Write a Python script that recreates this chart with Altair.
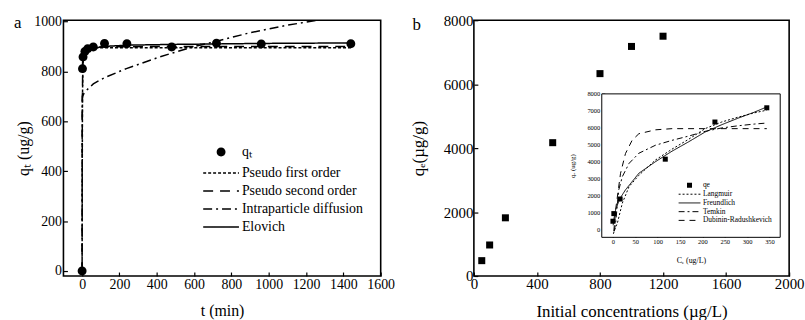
import altair as alt
import pandas as pd

FONT = "Liberation Serif"

# ---------------- panel a: adsorption kinetics ----------------
t_obs = [0, 2, 5, 15, 30, 60, 120, 240, 480, 720, 960, 1440]
qt_obs = [0, 811, 858, 880, 891, 898, 912, 911, 898, 913, 910, 911]

t_pfo = [0, 1, 2, 5, 10, 20, 60, 240, 720, 1440]
q_pfo = [0, 450, 700, 850, 885, 893, 895, 895, 895, 895]
t_pso = [0, 1, 3, 10, 30, 100, 480, 1440]
q_pso = [0, 600, 820, 875, 893, 898, 900, 900]
t_ipd = [0, 0.5, 2, 10, 25, 60, 120, 237, 416, 592, 716, 900, 1100, 1260]
q_ipd = [0, 690, 700, 712, 725, 750, 775, 811, 858, 898, 920, 955, 985, 1005]
t_elo = [1, 3, 10, 30, 60, 120, 240, 480, 720, 960, 1440]
q_elo = [800, 845, 868, 885, 893, 900, 905, 908, 910, 912, 914]

series_a = ["qₜ", "Pseudo first order", "Pseudo second order",
            "Intraparticle diffusion", "Elovich"]

# ---------------- panel b: isotherm ----------------
c0 = [50, 100, 200, 500, 800, 1000, 1200]
qe_main = [480, 970, 1820, 4170, 6330, 7180, 7500]

# inset
ce_obs = [0, 2, 16, 117, 228, 344]
qe_obs = [490, 940, 1800, 4150, 6340, 7180]

ce_lang = [1, 4, 10, 21, 36, 58, 95, 132, 169, 206, 243, 280, 316, 344]
q_lang = [-250, 0, 390, 1560, 2530, 3200, 4100, 4740, 5320, 5950, 6340, 6630, 6880, 7040]
ce_freu = [0.5, 2, 6, 15, 28, 58, 95, 132, 169, 206, 243, 280, 316, 344]
q_freu = [250, 600, 1170, 1800, 2340, 3320, 4000, 4620, 5170, 5750, 6180, 6570, 6920, 7230]
ce_temk = [3, 6, 13, 21, 36, 58, 95, 132, 169, 206, 243, 280, 316, 344]
q_temk = [-100, 390, 2340, 3120, 3900, 4500, 4970, 5260, 5510, 5790, 5990, 6120, 6220, 6280]
ce_dr = [2, 6, 17, 28, 43, 58, 95, 132, 206, 280, 344]
q_dr = [-100, 1170, 3320, 4480, 5270, 5650, 5880, 5950, 5950, 5950, 5950]

series_b = ["qe", "Langmuir", "Freundlich", "Temkin", "Dubinin-Radushkevich"]

panel_labels = ["a", "b"]

circle_path = "M-0.25,0A0.25,0.25 0 1,0 0.25,0A0.25,0.25 0 1,0 -0.25,0Z"
square_path = "M-0.23,-0.23H0.23V0.23H-0.23Z"

W_A, W_B, H = 320, 318, 258

leg_common = dict(title=None, orient="none", padding=0, labelFont=FONT, labelColor="black",
                  symbolFillColor="black", symbolStrokeColor="black", labelOffset=2)

# ================= panel a =================
df_a_pts = pd.DataFrame({"t": t_obs, "q": qt_obs, "series": series_a[0]})
df_a_lines = pd.concat([
    pd.DataFrame({"t": ts, "q": qs, "series": name})
    for name, ts, qs in [(series_a[1], t_pfo, q_pfo), (series_a[2], t_pso, q_pso),
                         (series_a[3], t_ipd, q_ipd), (series_a[4], t_elo, q_elo)]
])

ax_common = dict(labelFont=FONT, labelColor="black", titleFont=FONT, titleColor="black",
                 titleFontWeight="normal", tickColor="black", grid=False, domain=False,
                 labelFlush=False, format="d")

xa = alt.X("t:Q", scale=alt.Scale(domain=[-100, 1600], nice=False, zero=False),
           axis=alt.Axis(values=list(range(0, 1601, 200)), title="t (min)", labelFontSize=14,
                         titleFontSize=16, tickSize=4, tickWidth=1.2, offset=-4,
                         labelPadding=2, titlePadding=11, **ax_common))
ya = alt.Y("q:Q", scale=alt.Scale(domain=[-20, 1005], nice=False, zero=False),
           axis=alt.Axis(values=list(range(0, 1001, 200)), title="qₜ (ug/g)", labelFontSize=14,
                         titleFontSize=16, tickSize=4, tickWidth=1.2, offset=-4,
                         labelPadding=2, titlePadding=2, **ax_common))

legend_a_pt = alt.Legend(legendX=140, legendY=126, labelFontSize=14, symbolSize=1300,
                         symbolStrokeWidth=1, clipHeight=14, **leg_common)
legend_a_ln = alt.Legend(legendX=140, legendY=147, labelFontSize=14, symbolSize=1300,
                         symbolStrokeWidth=1.5, clipHeight=14, rowPadding=4.2, **leg_common)

dash_a = [[3, 2], [10, 7], [9, 4, 2, 4], [1, 0]]

pts_a = alt.Chart(df_a_pts).mark_point(filled=True, size=1300, color="black", opacity=1).encode(
    x=xa, y=ya,
    shape=alt.Shape("series:N", scale=alt.Scale(domain=series_a[:1], range=[circle_path]),
                    legend=legend_a_pt),
)
lines_a = alt.Chart(df_a_lines).mark_line(color="black", strokeWidth=1.5, clip=True).encode(
    x=xa, y=ya,
    strokeDash=alt.StrokeDash("series:N", scale=alt.Scale(domain=series_a[1:], range=dash_a),
                              legend=legend_a_ln),
)
lab_a = alt.Chart(pd.DataFrame({"lab": panel_labels[:1]})).mark_text(
    font=FONT, fontSize=17, align="left", baseline="middle", color="black"
).encode(x=alt.value(-50), y=alt.value(3), text="lab:N")

panel_a = alt.layer(lines_a, pts_a, lab_a).properties(width=W_A, height=H)

# ================= panel b =================
df_b = pd.DataFrame({"c0": c0, "qe": qe_main})
xb = alt.X("c0:Q", scale=alt.Scale(domain=[0, 2000], nice=False, zero=False),
           axis=alt.Axis(values=list(range(0, 2001, 400)), title="Initial concentrations (µg/L)",
                         labelFontSize=15, titleFontSize=17, tickSize=4, tickWidth=1.2, offset=-4,
                         labelPadding=1, titlePadding=12, orient="bottom", **ax_common))
yb = alt.Y("qe:Q", scale=alt.Scale(domain=[0, 8000], nice=False, zero=False),
           axis=alt.Axis(values=list(range(0, 8001, 2000)), title="qₑ(µg/g)",
                         labelFontSize=15, titleFontSize=17, tickSize=4, tickWidth=1.2, offset=-4,
                         labelPadding=1, titlePadding=16, orient="left", **ax_common))
main_b = alt.Chart(df_b).mark_square(size=50, color="black", opacity=1).encode(x=xb, y=yb)
lab_b = alt.Chart(pd.DataFrame({"lab": panel_labels[1:]})).mark_text(
    font=FONT, fontSize=17, align="left", baseline="middle", color="black"
).encode(x=alt.value(-62), y=alt.value(5), text="lab:N")

# inset
X_DOM, X_RNG = [-25, 374], [129, 309]
Y_DOM, Y_RNG = [-460, 8000], [219, 74.3]
ax_in = dict(labelFont=FONT, labelColor="black", titleFont=FONT, titleColor="black",
             titleFontWeight="normal", tickColor="black", grid=False, domain=False,
             labelFlush=False, tickSize=3, tickWidth=0.8, format="d")

xi = alt.X("ce:Q", scale=alt.Scale(domain=X_DOM, range=X_RNG, nice=False, zero=False),
           axis=alt.Axis(values=list(range(0, 351, 50)), title="Cₑ (ug/L)", orient="bottom",
                         offset=-(H - Y_RNG[0]) - 3, labelFontSize=6.5,
                         titleFontSize=8, labelPadding=1, titlePadding=12, **ax_in))
yi = alt.Y("q:Q", scale=alt.Scale(domain=Y_DOM, range=Y_RNG, nice=False, zero=False),
           axis=alt.Axis(values=list(range(0, 8001, 1000)), title="qₑ (ug/g)", orient="left",
                         offset=-X_RNG[0] - 3, labelFontSize=6.5, titleFontSize=7,
                         labelPadding=2, titlePadding=11, **ax_in))

df_frame = pd.DataFrame({"ce": [X_DOM[0]], "ce2": [X_DOM[1]], "q": [Y_DOM[0]], "q2": [Y_DOM[1]]})
frame_in = alt.Chart(df_frame).mark_rect(fill="white", stroke="black", strokeWidth=1).encode(
    x=xi, x2="ce2:Q", y=yi, y2="q2:Q")

df_in_pts = pd.DataFrame({"ce": ce_obs, "q": qe_obs, "series": series_b[0]})
df_in_lines = pd.concat([
    pd.DataFrame({"ce": cs, "q": qs, "series": name})
    for name, cs, qs in [(series_b[1], ce_lang, q_lang), (series_b[2], ce_freu, q_freu),
                         (series_b[3], ce_temk, q_temk), (series_b[4], ce_dr, q_dr)]
])

legend_b_pt = alt.Legend(legendX=206, legendY=162.5, labelFontSize=7.5, symbolSize=484,
                         symbolStrokeWidth=0.5, clipHeight=8, **leg_common)
legend_b_ln = alt.Legend(legendX=206, legendY=171.5, labelFontSize=7.5, symbolSize=484,
                         symbolStrokeWidth=1, clipHeight=8, rowPadding=0.8, **leg_common)
dash_b = [[2, 2], [1, 0], [6, 3, 2, 3], [6, 5]]

in_lines = alt.Chart(df_in_lines).mark_line(color="black", strokeWidth=1).encode(
    x=xi, y=yi,
    strokeDash=alt.StrokeDash("series:N", scale=alt.Scale(domain=series_b[1:], range=dash_b),
                              legend=legend_b_ln),
)
in_pts = alt.Chart(df_in_pts).mark_point(filled=True, size=484, color="black", opacity=1).encode(
    x=xi, y=yi,
    shape=alt.Shape("series:N", scale=alt.Scale(domain=series_b[:1], range=[square_path]),
                    legend=legend_b_pt),
)
inset = alt.layer(frame_in, in_lines, in_pts)

panel_b = alt.layer(main_b, lab_b, inset).resolve_scale(
    x="independent", y="independent").properties(width=W_B, height=H)

chart = alt.hconcat(panel_a, panel_b, spacing=13).resolve_scale(
    x="independent", y="independent", shape="independent", strokeDash="independent"
).resolve_legend(shape="independent", strokeDash="independent").properties(
    padding={"left": 13, "top": 11, "right": 0, "bottom": 0}, background="white"
).configure(font=FONT).configure_axis(labelFont=FONT, titleFont=FONT).configure_legend(
    labelFont=FONT
).configure_view(stroke="black", strokeWidth=1.6)

chart.save("out.html", embed_options={"renderer": "svg", "actions": False})
